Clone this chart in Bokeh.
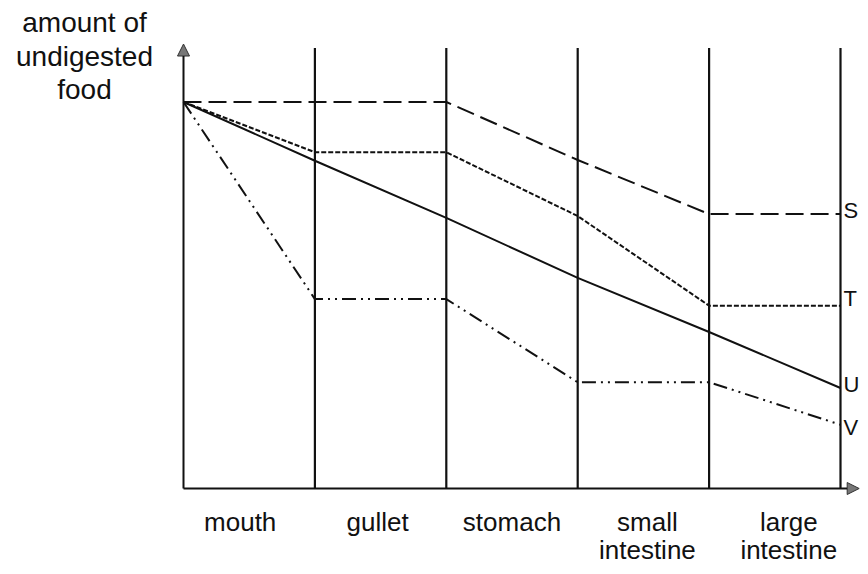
from bokeh.plotting import figure
from bokeh.models import Range1d, Arrow, NormalHead, ColumnDataSource
from bokeh.core.properties import value
from bokeh.embed import file_html
from bokeh.resources import INLINE

# ---- data ----
boundaries = [0, 1, 2, 3, 4, 5]          # organ boundaries along the gut
stage_line1 = ["mouth", "gullet", "stomach", "small", "large"]
stage_line2 = ["", "", "", "intestine", "intestine"]
S = [100, 100, 100, 85, 71, 71]
T = [100, 87, 87, 70.5, 47.3, 47.3]
U = [100, 84.8, 70, 54.5, 40.5, 26]
V = [100, 49, 49, 27.5, 27.5, 16.5]
series_names = ["S", "T", "U", "V"]
y_title = ["amount of", "undigested", "food"]

# ---- layout / style ----
W, H = 860, 566
px_x = 131.4     # pixels per stage
px_y = 3.865     # pixels per unit of food
x0 = -183 / px_x
y1 = 488 / px_y
y_top = 114      # top of the vertical organ lines
axis_top = 115
FONT = value("Liberation Sans")
INK = "#111111"

p = figure(width=W, height=H, output_backend="svg", toolbar_location=None,
           x_range=Range1d(x0, x0 + W / px_x), y_range=Range1d(y1 - H / px_y, y1),
           x_axis_location=None, y_axis_location=None, min_border=0)
p.grid.visible = False
p.outline_line_color = None
p.background_fill_color = "white"

# axes with arrow heads
p.add_layout(Arrow(end=NormalHead(size=12, fill_color="#777777", line_color="#333333", line_width=1),
                   x_start=0, y_start=0, x_end=0, y_end=axis_top,
                   line_width=2, line_color=INK))
p.add_layout(Arrow(end=NormalHead(size=12, fill_color="#777777", line_color="#333333", line_width=1),
                   x_start=0, y_start=0, x_end=x0 + W / px_x - 0.01, y_end=0,
                   line_width=2, line_color=INK))

# vertical organ boundary lines
vb = boundaries[1:]
p.segment(x0=vb, y0=[0] * len(vb), x1=vb, y1=[y_top] * len(vb),
          line_color=INK, line_width=2.2)

# series lines
styles = {"S": "18 7", "T": "5 2", "U": "solid", "V": "14 5 2 5 2 5"}
data = {"S": S, "T": T, "U": U, "V": V}
for name in series_names:
    p.line(boundaries, data[name], line_color=INK, line_width=2,
           line_dash=styles[name])

# series labels at the right end
end_vals = [data[n][-1] for n in series_names]
lab = ColumnDataSource(dict(x=[boundaries[-1]] * 4, y=end_vals, t=series_names,
                            dy=[-4, -7, -4, 3]))
p.text(x="x", y="y", text="t", y_offset="dy", x_offset=3, source=lab,
       text_font=FONT, text_font_size="22px", text_color=INK,
       text_align="left", text_baseline="middle")

# stage labels under the axis
mids = [(boundaries[i] + boundaries[i + 1]) / 2 for i in range(len(stage_line1))]
dx = [-9, -3, 0, 4, 14]
p.text(x=mids, y=[0] * len(mids), text=stage_line1, x_offset=dx, y_offset=33,
       text_font=FONT, text_font_size="26px", text_color=INK,
       text_align="center", text_baseline="middle")
p.text(x=mids, y=[0] * len(mids), text=stage_line2, x_offset=dx, y_offset=61,
       text_font=FONT, text_font_size="26px", text_color=INK,
       text_align="center", text_baseline="middle")

# y-axis title
p.text(x=[0] * 3, y=[axis_top] * 3, text=y_title, x_offset=-99,
       y_offset=[-22, 12, 45],
       text_font=FONT, text_font_size="28px", text_color=INK,
       text_align="center", text_baseline="middle")

open("out.html", "w").write(file_html(p, INLINE))
